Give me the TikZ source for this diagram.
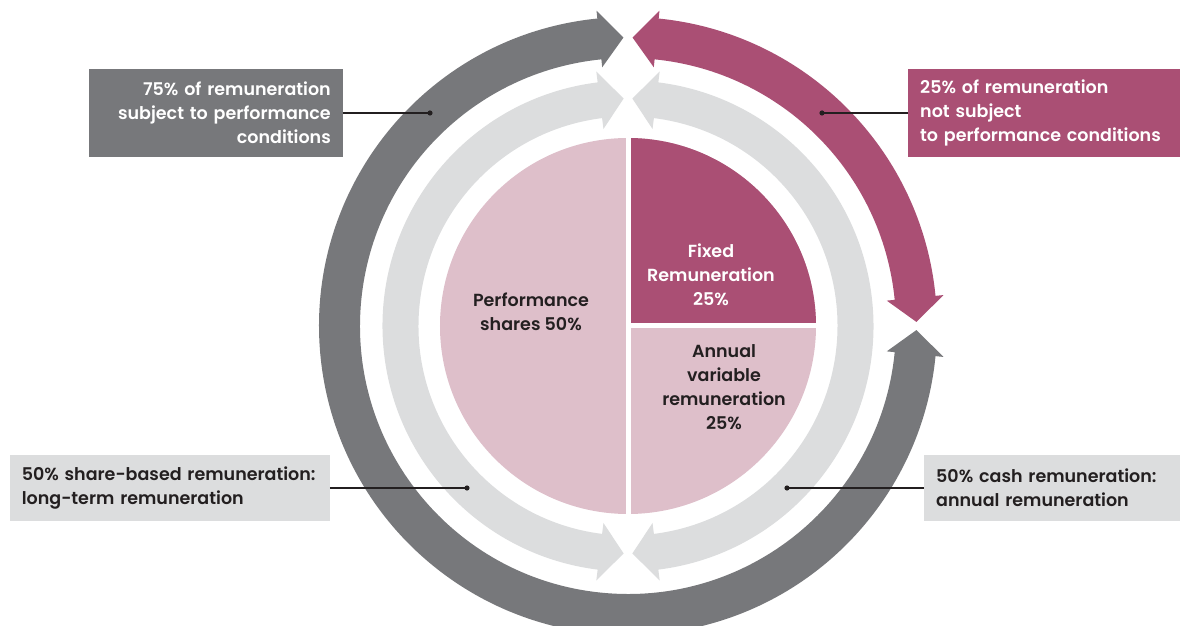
\documentclass[tikz,border=0pt]{standalone}
\usepackage{fontspec}
\setmainfont{Poppins}[BoldFont={Poppins SemiBold}]
\usepackage{tikz}
\usetikzlibrary{positioning}
\definecolor{remgray}{RGB}{119,120,123}
\definecolor{remmaroon}{RGB}{170,79,116}
\definecolor{remlight}{RGB}{220,221,222}
\definecolor{rempink}{RGB}{222,191,202}
\definecolor{remtext}{RGB}{35,31,32}

% curved double arrow: colour, start, end, mid radius, half width, head angle, head half width
\newcommand{\ringarrow}[7]{%
  \fill[#1] ({#2+#6}:{#4+#5}) arc[start angle={#2+#6}, end angle={#3-#6}, radius={#4+#5}]
    -- ({#3-#6}:{#4+#7}) -- (#3:#4) -- ({#3-#6}:{#4-#7})
    -- ({#3-#6}:{#4-#5}) arc[start angle={#3-#6}, end angle={#2+#6}, radius={#4-#5}]
    -- ({#2+#6}:{#4-#7}) -- (#2:#4) -- ({#2+#6}:{#4+#7}) -- cycle;}

\begin{document}
\begin{tikzpicture}[
    x=1pt, y=1pt,
    font=\fontsize{17.5}{23.8}\selectfont\bfseries,
    infobox/.style={minimum height=#1, inner xsep=12, inner ysep=0},
    darkbox/.style={infobox=88, fill=remgray, text=white},
    maroonbox/.style={infobox=88, fill=remmaroon, text=white},
    lightbox/.style={infobox=66, fill=remlight, text=remtext},
    pielabel/.style={align=center, text=#1},
    leader/.style={draw=remtext, line width=1.3},
]
\useasboundingbox (-628,-300) rectangle (552,326);

% === Pie ===
\fill[rempink] (0,0) circle (188);
\fill[remmaroon] (0,0) -- (0:188) arc[start angle=0, end angle=90, radius=188] -- cycle;
\draw[white, line width=5] (0,-190) -- (0,190);
\draw[white, line width=5] (0,0) -- (190,0);

\node[pielabel=remtext] (perf) at (-97,14) {Performance\\shares 50\%};
\node[pielabel=white] (fixed) at (83,51) {Fixed\\Remuneration\\25\%};
\node[pielabel=remtext] (annual) at (96,-61) {Annual\\variable\\remuneration\\25\%};

% === Inner ring ===
\ringarrow{remlight}{91.1}{268.9}{227.5}{18}{6}{29}
\ringarrow{remlight}{-88.9}{88.9}{227.5}{18}{6}{29}

% === Outer ring ===
\ringarrow{remgray}{90.9}{359.2}{288.5}{20.5}{4.8}{28.5}
\ringarrow{remmaroon}{0.8}{89.1}{288.5}{20.5}{4.8}{28.5}

% === Boxes ===
\node[darkbox, anchor=east, text width=230, align=right] (subject) at (-285,213)
  {75\% of remuneration\\subject to performance\\conditions};
\node[maroonbox, anchor=west, text width=248, align=left] (notsubject) at (280,213)
  {25\% of remuneration\\not subject\\to performance conditions};
\node[lightbox, anchor=east, text width=296, align=left] (share) at (-298,-162)
  {50\% share-based remuneration:\\long-term remuneration};
\node[lightbox, anchor=west, text width=232, align=left] (cash) at (296,-162)
  {50\% cash remuneration:\\annual remuneration};

% === Leaders ===
\coordinate (subjectdot) at (-198,213);
\coordinate (notsubjectdot) at (194,213);
\coordinate (sharedot) at (-161,-162);
\coordinate (cashdot) at (159,-162);

\draw[leader] (subject.east) -- (subjectdot);
\draw[leader] (notsubject.west) -- (notsubjectdot);
\draw[leader] (share.east) -- (sharedot);
\draw[leader] (cash.west) -- (cashdot);
\foreach \d in {subjectdot, notsubjectdot, sharedot, cashdot}
  \fill[remtext] (\d) circle (2.6);

\end{tikzpicture}
\end{document}
